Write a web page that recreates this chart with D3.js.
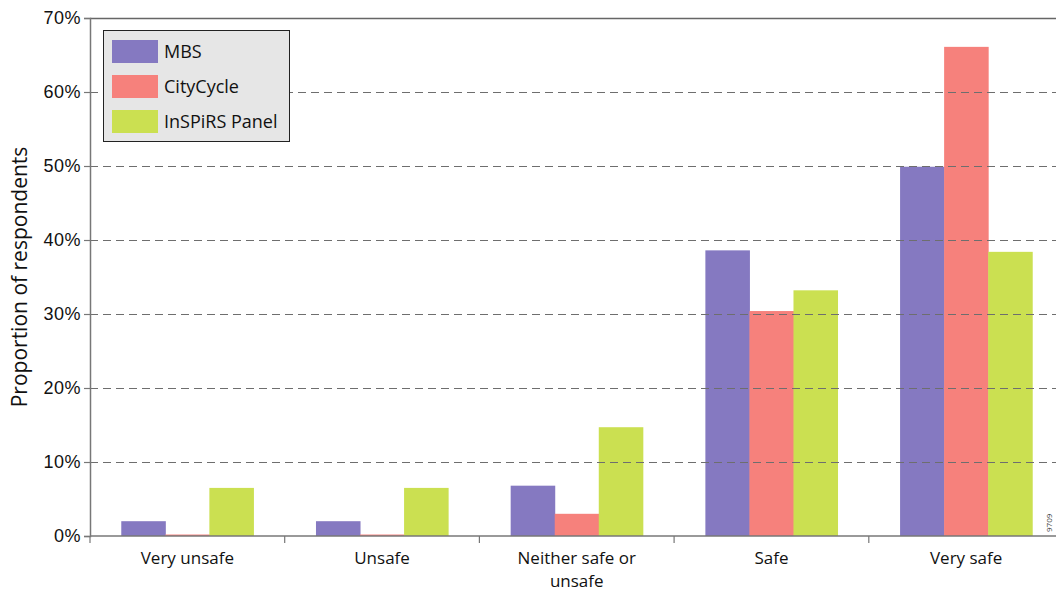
<!DOCTYPE html>
<html><head><meta charset="utf-8">
<script src="https://cdn.jsdelivr.net/npm/d3@7"></script>
<style>
html,body{margin:0;padding:0;background:#fff;overflow:hidden;}
svg{display:block;font-family:"Open Sans","Noto Sans",sans-serif;}
</style></head>
<body>
<svg id="chart" width="1056" height="592"></svg>
<script>
const categories = ["Very unsafe", "Unsafe", "Neither safe or unsafe", "Safe", "Very safe"];
const seriesNames = ["MBS", "CityCycle", "InSPiRS Panel"];
const mbs = [2.0, 2.0, 6.8, 38.6, 49.9];
const cityCycle = [0.2, 0.2, 3.0, 30.4, 66.1];
const inspirs = [6.5, 6.5, 14.7, 33.2, 38.4];
const yTicks = [0, 10, 20, 30, 40, 50, 60, 70];
const colors = ["#8579c1", "#f6817c", "#cbe051"];

const series = [mbs, cityCycle, inspirs];
const svg = d3.select("#chart");
const m = {left: 90, top: 18, bottom: 536, right: 1063.5};

const x = d3.scaleBand().domain(categories).range([m.left, m.right]).paddingInner(0).paddingOuter(0);
const xs = d3.scaleBand().domain(seriesNames).range([0, x.bandwidth()]).paddingInner(0).paddingOuter(0.71);
const y = d3.scaleLinear().domain([0, 70]).range([m.bottom, m.top]);

// bars
const g = svg.append("g");
categories.forEach((c, i) => {
  seriesNames.forEach((s, j) => {
    g.append("rect")
      .attr("x", x(c) + xs(s))
      .attr("y", y(series[j][i]))
      .attr("width", xs.bandwidth() + 0.5)
      .attr("height", y(0) - y(series[j][i]))
      .attr("fill", colors[j]);
  });
});

// gridlines (over bars)
svg.append("g").selectAll("line").data(yTicks.filter(t => t > 0 && t < 70)).join("line")
  .attr("x1", m.left).attr("x2", 1056)
  .attr("y1", d => Math.round(y(d)) + 0.5).attr("y2", d => Math.round(y(d)) + 0.5)
  .attr("stroke", "#6e6e6e").attr("stroke-width", 1.2).attr("stroke-dasharray", "8,5");

// top border
svg.append("line").attr("x1", m.left).attr("x2", 1056).attr("y1", y(70)+0.5).attr("y2", y(70)+0.5)
  .attr("stroke", "#666").attr("stroke-width", 1.5);

// y axis
const yAxis = d3.axisLeft(y).tickValues(yTicks).tickFormat(d => d + "%").tickSize(6).tickPadding(3);
const ya = svg.append("g").attr("transform", `translate(${m.left},0)`).call(yAxis);
ya.select(".domain").attr("stroke", "#777").attr("stroke-width", 1.5);
ya.selectAll(".tick line").attr("stroke", "#777").attr("stroke-width", 1.2);
ya.selectAll(".tick text").attr("fill", "#111").style("font-size", "18px").style("letter-spacing", "0.5px");

// x axis
const xa = svg.append("g").attr("transform", `translate(0,${m.bottom})`);
xa.append("line").attr("x1", m.left).attr("x2", 1056).attr("y1", 0).attr("y2", 0)
  .attr("stroke", "#777").attr("stroke-width", 1.5);
xa.selectAll("line.tk").data(categories).join("line").attr("class", "tk")
  .attr("x1", d => x(d)).attr("x2", d => x(d)).attr("y1", 0).attr("y2", 7)
  .attr("stroke", "#777").attr("stroke-width", 1.2);
const labelLines = {"Neither safe or unsafe": ["Neither safe or", "unsafe"]};
categories.forEach(c => {
  const lines = labelLines[c] || [c];
  lines.forEach((l, k) => {
    xa.append("text").attr("text-anchor", "middle").attr("fill", "#111").style("font-size", "17px")
      .attr("x", x(c) + x.bandwidth() / 2).attr("y", 28 + k * 23.4).text(l);
  });
});

// y title
svg.append("text").attr("transform", "translate(27,277) rotate(-90)").attr("text-anchor", "middle")
  .attr("fill", "#111").style("font-size", "21px").text("Proportion of respondents");

// legend
const lg = svg.append("g");
lg.append("rect").attr("x", 103.5).attr("y", 30.5).attr("width", 186).attr("height", 111)
  .attr("fill", "#e6e6e6").attr("stroke", "#222").attr("stroke-width", 1);
seriesNames.forEach((s, j) => {
  lg.append("rect").attr("x", 112).attr("y", 40 + j * 35).attr("width", 46).attr("height", 23).attr("fill", colors[j]);
  lg.append("text").attr("x", 164).attr("y", 58 + j * 35).attr("fill", "#111").style("font-size", "18px").text(s);
});

// small rotated id text at right edge
svg.append("text").attr("transform", "translate(1052,532) rotate(-90)").attr("fill", "#333")
  .style("font-size", "8px").text("9709");
</script>
</body></html>
